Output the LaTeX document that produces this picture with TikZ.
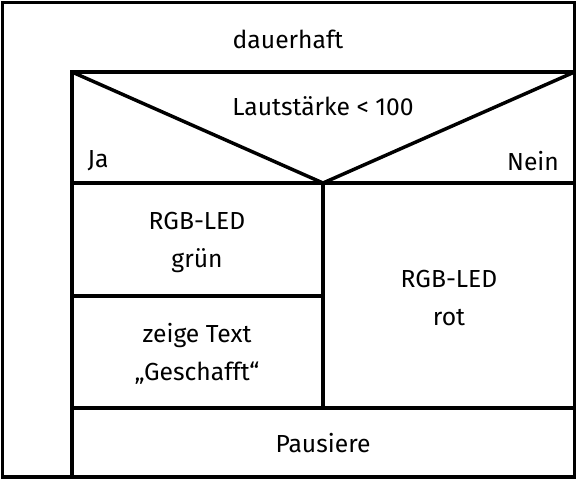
\documentclass[tikz,border=0pt]{standalone}
\usepackage{fontspec}
\setmainfont{Fira Sans}
\usepackage{tikz}

\begin{document}
\begin{tikzpicture}[x=0.75pt,y=0.75pt,yscale=-1.,xscale=1.]
    \useasboundingbox (0,0) rectangle (577,480);
    \tikzset{struk/.style={line width=2.6pt, line join=miter}, lbl/.style={inner sep=0.75pt, align=center, font=\fontsize{18.5}{28.5}\selectfont}}

    %Shape: Rectangle (outer loop)
    \draw [struk] (2.5,2.5) -- (574.5,2.5) -- (574.5,477) -- (2.5,477) -- cycle ;
    %Shape: Loop body
    \draw [struk] (72,477) -- (72,72) -- (574.5,72) ;
    %Shape: Decision triangle
    \draw [struk] (72,72) -- (323,183) -- (574.5,72) ;
    %Straight Lines
    \draw [struk] (72,183) -- (574.5,183) ;
    \draw [struk] (323,183) -- (323,408) ;
    \draw [struk] (72,296) -- (323,296) ;
    \draw [struk] (72,408) -- (574.5,408) ;

    % Text Node
    \node [lbl] (loop) at (288,39) {dauerhaft};
    % Text Node
    \node [lbl] (cond) at (323,106) {Lautstärke < 100};
    % Text Node
    \node [lbl] (yes) at (98,161) {Ja};
    % Text Node
    \node [lbl] (no) at (533,161) {Nein};
    % Text Node
    \node [lbl] (green) at (197,242) {RGB-LED\\grün};
    % Text Node
    \node [lbl] (text) at (197,354) {zeige Text\\„Geschafft“};
    % Text Node
    \node [lbl] (red) at (449,298) {RGB-LED\\rot};
    % Text Node
    \node [lbl] (pause) at (323,443) {Pausiere};

\end{tikzpicture}
\end{document}
